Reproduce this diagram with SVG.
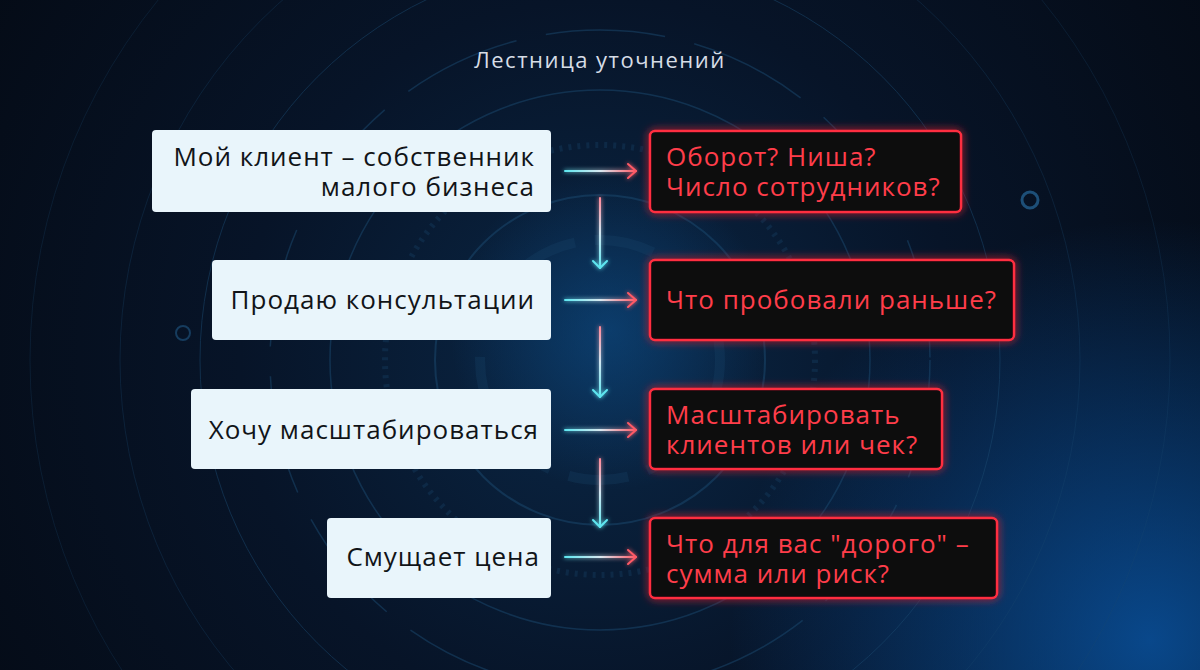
<svg xmlns="http://www.w3.org/2000/svg" width="1200" height="670" viewBox="0 0 1200 670">
<defs>
<radialGradient id="bg" cx="600" cy="360" r="800" gradientUnits="userSpaceOnUse">
<stop offset="0" stop-color="#0a2746"/>
<stop offset="0.45" stop-color="#071428"/>
<stop offset="1" stop-color="#040912"/>
</radialGradient>
<radialGradient id="glowBR" cx="1150" cy="640" r="420" gradientUnits="userSpaceOnUse">
<stop offset="0" stop-color="#0a5bb0" stop-opacity="0.75"/>
<stop offset="1" stop-color="#0a5bb0" stop-opacity="0"/>
</radialGradient>
<radialGradient id="glowC" cx="610" cy="330" r="160" gradientUnits="userSpaceOnUse">
<stop offset="0" stop-color="#0d4f8c" stop-opacity="0.55"/>
<stop offset="1" stop-color="#0d4f8c" stop-opacity="0"/>
</radialGradient>
<linearGradient id="hArrow" gradientUnits="userSpaceOnUse" x1="565" y1="0" x2="636" y2="0">
<stop offset="0" stop-color="#5ee6f0"/>
<stop offset="0.5" stop-color="#d8e8f0"/>
<stop offset="1" stop-color="#ff5a66"/>
</linearGradient>
<linearGradient id="v1" gradientUnits="userSpaceOnUse" x1="0" y1="198" x2="0" y2="268">
<stop offset="0" stop-color="#ff8a9a"/>
<stop offset="0.5" stop-color="#cfe6f2"/>
<stop offset="1" stop-color="#5ee6f0"/>
</linearGradient>
<linearGradient id="v2" gradientUnits="userSpaceOnUse" x1="0" y1="327" x2="0" y2="397">
<stop offset="0" stop-color="#ff8a9a"/>
<stop offset="0.5" stop-color="#cfe6f2"/>
<stop offset="1" stop-color="#5ee6f0"/>
</linearGradient>
<linearGradient id="v3" gradientUnits="userSpaceOnUse" x1="0" y1="459" x2="0" y2="527">
<stop offset="0" stop-color="#ff8a9a"/>
<stop offset="0.5" stop-color="#cfe6f2"/>
<stop offset="1" stop-color="#5ee6f0"/>
</linearGradient>
<filter id="redGlow" x="-20%" y="-30%" width="140%" height="160%">
<feGaussianBlur stdDeviation="4" result="b"/>
<feMerge><feMergeNode in="b"/><feMergeNode in="SourceGraphic"/></feMerge>
</filter>
<filter id="softGlow" x="-20%" y="-20%" width="140%" height="140%" filterUnits="userSpaceOnUse">
<feGaussianBlur stdDeviation="2" result="b"/>
<feMerge><feMergeNode in="b"/><feMergeNode in="SourceGraphic"/></feMerge>
</filter>
</defs>
<style>
.lbox{fill:#e9f5fb;}
.rbox{fill:#07070e;stroke:#ff2e3f;stroke-width:2.5;}
.lt{font-family:"Open Sans","Liberation Sans",sans-serif;font-size:26px;letter-spacing:1px;fill:#111418;text-anchor:end;}
.rt{font-family:"Open Sans","Liberation Sans",sans-serif;font-size:26px;letter-spacing:1px;fill:#ff3d4a;}
.title{font-family:"Open Sans","Liberation Sans",sans-serif;font-size:22px;letter-spacing:1.5px;fill:#d6dde6;text-anchor:middle;}
.ring{fill:none;stroke:#1b4a70;}
.conn{fill:none;stroke-width:2;stroke-linecap:round;stroke-linejoin:round;}
</style>
<rect width="1200" height="670" fill="url(#bg)"/>
<rect width="1200" height="670" fill="url(#glowBR)"/>
<rect width="1200" height="670" fill="url(#glowC)"/>
<g opacity="0.5">
<circle class="ring" cx="600" cy="360" r="120" stroke-width="10" stroke-dasharray="60 20" opacity="0.5"/>
<circle class="ring" cx="600" cy="360" r="165" stroke-width="2"/>
<circle class="ring" cx="600" cy="360" r="215" stroke-width="6" stroke-dasharray="3 6" opacity="0.6"/>
<circle class="ring" cx="600" cy="360" r="270" stroke-width="1.5"/>
<circle class="ring" cx="600" cy="360" r="330" stroke-width="1.5" stroke-dasharray="120 30"/>
<circle class="ring" cx="600" cy="360" r="400" stroke-width="1"/>
<circle class="ring" cx="600" cy="360" r="480" stroke-width="1" opacity="0.6"/>
<circle class="ring" cx="600" cy="360" r="570" stroke-width="1" opacity="0.5"/>
</g>
<circle cx="1030" cy="200" r="8" fill="none" stroke="#1d4f78" stroke-width="3"/>
<circle cx="183" cy="333" r="7" fill="none" stroke="#163c5e" stroke-width="2"/>
<text class="title" x="600" y="68">Лестница уточнений</text>

<g id="connectors" class="conn" filter="url(#softGlow)">
<path d="M565 171 H636" stroke="url(#hArrow)"/>
<path d="M628 164 L636 171 L628 178" stroke="#ff5a66"/>
<path d="M565 300 H636" stroke="url(#hArrow)"/>
<path d="M628 293 L636 300 L628 307" stroke="#ff5a66"/>
<path d="M565 430 H636" stroke="url(#hArrow)"/>
<path d="M628 423 L636 430 L628 437" stroke="#ff5a66"/>
<path d="M565 557 H636" stroke="url(#hArrow)"/>
<path d="M628 550 L636 557 L628 564" stroke="#ff5a66"/>
<path d="M600 198 V268" stroke="url(#v1)"/>
<path d="M593 261 L600 268 L607 261" stroke="#5ee6f0"/>
<path d="M600 327 V397" stroke="url(#v2)"/>
<path d="M593 390 L600 397 L607 390" stroke="#5ee6f0"/>
<path d="M600 459 V527" stroke="url(#v3)"/>
<path d="M593 520 L600 527 L607 520" stroke="#5ee6f0"/>
</g>

<g id="n1">
<rect class="lbox" x="152" y="130" width="399" height="82" rx="4"/>
<text class="lt" x="535" y="166">Мой клиент – собственник</text>
<text class="lt" x="535" y="196">малого бизнеса</text>
</g>
<g id="n2">
<rect class="lbox" x="212" y="260" width="339" height="80" rx="4"/>
<text class="lt" x="535" y="309">Продаю консультации</text>
</g>
<g id="n3">
<rect class="lbox" x="191" y="389" width="360" height="80" rx="4"/>
<text class="lt" x="539" y="439">Хочу масштабироваться</text>
</g>
<g id="n4">
<rect class="lbox" x="327" y="518" width="224" height="80" rx="4"/>
<text class="lt" x="540" y="566">Смущает цена</text>
</g>

<g id="q1">
<rect class="rbox" x="650" y="131" width="311" height="81" rx="5" filter="url(#redGlow)"/>
<text class="rt" x="666" y="166">Оборот? Ниша?</text>
<text class="rt" x="666" y="196">Число сотрудников?</text>
</g>
<g id="q2">
<rect class="rbox" x="650" y="260" width="364" height="80" rx="5" filter="url(#redGlow)"/>
<text class="rt" x="666" y="309">Что пробовали раньше?</text>
</g>
<g id="q3">
<rect class="rbox" x="650" y="389" width="292" height="80" rx="5" filter="url(#redGlow)"/>
<text class="rt" x="666" y="424">Масштабировать</text>
<text class="rt" x="666" y="454">клиентов или чек?</text>
</g>
<g id="q4">
<rect class="rbox" x="650" y="518" width="347" height="80" rx="5" filter="url(#redGlow)"/>
<text class="rt" x="666" y="553">Что для вас "дорого" –</text>
<text class="rt" x="666" y="583">сумма или риск?</text>
</g>
</svg>
